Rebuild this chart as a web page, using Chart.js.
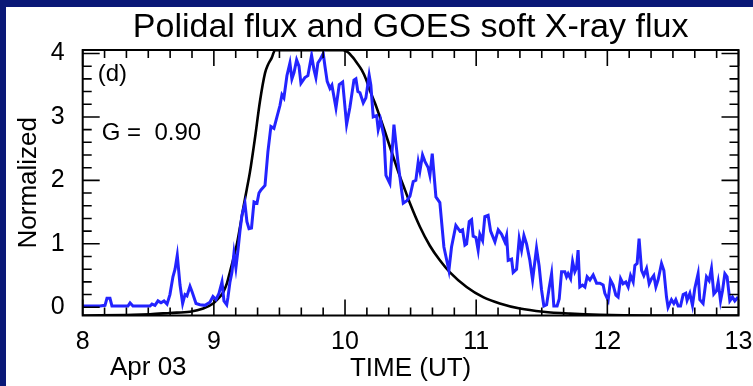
<!DOCTYPE html>
<html>
<head>
<meta charset="utf-8">
<script src="https://cdn.jsdelivr.net/npm/chart.js@4.4.1/dist/chart.umd.min.js"></script>
<style>
  html, body { margin: 0; padding: 0; width: 753px; height: 386px; overflow: hidden; background: #0a1877; }
  #panel { position: absolute; left: 6px; top: 7px; width: 747px; height: 379px; background: #fff; }
</style>
</head>
<body>
<div id="panel"><canvas id="fluxChart" width="747" height="379"></canvas></div>
<script>
// GOES soft X-ray flux (normalized), time in hours UT
const goesTime = [8.000, 8.132, 8.170, 8.185, 8.208, 8.223, 8.345, 8.361, 8.383, 8.513,
  8.528, 8.551, 8.574, 8.597, 8.620, 8.643, 8.665, 8.688, 8.704, 8.721,
  8.742, 8.762, 8.780, 8.795, 8.818, 8.833, 8.864, 8.894, 8.932, 8.970,
  8.993, 9.016, 9.039, 9.062, 9.077, 9.098, 9.107, 9.123, 9.138, 9.153,
  9.168, 9.184, 9.199, 9.214, 9.237, 9.252, 9.268, 9.287, 9.306, 9.329,
  9.344, 9.359, 9.390, 9.412, 9.435, 9.458, 9.481, 9.504, 9.519, 9.534,
  9.557, 9.580, 9.595, 9.611, 9.631, 9.649, 9.664, 9.694, 9.717, 9.745,
  9.763, 9.778, 9.793, 9.809, 9.834, 9.847, 9.864, 9.885, 9.900, 9.931,
  9.956, 9.982, 10.012, 10.037, 10.068, 10.083, 10.098, 10.114, 10.139, 10.159,
  10.184, 10.197, 10.215, 10.241, 10.253, 10.271, 10.297, 10.312, 10.342, 10.373,
  10.403, 10.444, 10.472, 10.495, 10.520, 10.540, 10.558, 10.571, 10.591, 10.609,
  10.634, 10.647, 10.665, 10.693, 10.723, 10.754, 10.792, 10.812, 10.845, 10.876,
  10.896, 10.914, 10.927, 10.947, 10.965, 10.977, 10.998, 11.015, 11.028, 11.049,
  11.066, 11.091, 11.110, 11.143, 11.168, 11.194, 11.219, 11.232, 11.244, 11.270,
  11.282, 11.308, 11.328, 11.346, 11.364, 11.384, 11.409, 11.430, 11.460, 11.480,
  11.498, 11.516, 11.537, 11.556, 11.575, 11.592, 11.617, 11.633, 11.651, 11.676,
  11.689, 11.701, 11.720, 11.735, 11.752, 11.765, 11.777, 11.790, 11.811, 11.829,
  11.846, 11.867, 11.892, 11.918, 11.943, 11.968, 11.981, 12.006, 12.024, 12.044,
  12.065, 12.082, 12.101, 12.120, 12.141, 12.159, 12.177, 12.197, 12.210, 12.227,
  12.242, 12.261, 12.278, 12.299, 12.319, 12.337, 12.354, 12.370, 12.387, 12.413,
  12.431, 12.451, 12.463, 12.489, 12.507, 12.522, 12.540, 12.558, 12.578, 12.598,
  12.608, 12.629, 12.649, 12.667, 12.692, 12.705, 12.730, 12.756, 12.776, 12.794,
  12.812, 12.832, 12.845, 12.863, 12.878, 12.896, 12.913, 12.934, 12.954, 12.972,
  12.997];
const goesFlux = [0.02, 0.02, 0.03, 0.14, 0.14, 0.02, 0.02, 0.07, 0.02, 0.02,
  0.05, 0.03, 0.10, 0.07, 0.10, 0.05, 0.20, 0.48, 0.60, 0.82,
  0.35, 0.06, 0.20, 0.18, 0.33, 0.25, 0.06, 0.04, 0.03, 0.08,
  0.17, 0.12, 0.22, 0.40, 0.10, 0.04, 0.15, 0.40, 0.55, 0.85,
  0.62, 0.90, 1.20, 1.45, 1.64, 1.35, 1.24, 1.25, 1.66, 1.64,
  1.80, 1.85, 1.92, 2.45, 2.85, 2.82, 3.00, 3.18, 3.35, 3.30,
  3.65, 3.85, 3.60, 3.70, 3.90, 3.80, 3.53, 3.62, 3.65, 3.97,
  3.75, 3.62, 3.85, 3.90, 4.00, 3.80, 3.56, 3.45, 3.50, 3.14,
  3.51, 3.55, 2.88, 3.15, 3.58, 3.60, 3.40, 3.38, 3.22, 3.30,
  3.66, 3.50, 3.00, 3.02, 2.80, 2.95, 2.69, 2.08, 1.95, 2.88,
  2.30, 1.64, 1.68, 1.75, 1.98, 2.00, 2.29, 2.15, 2.40, 2.30,
  2.20, 2.08, 2.42, 1.74, 1.65, 0.95, 0.58, 0.95, 1.29, 1.20,
  1.22, 0.98, 1.00, 1.35, 1.38, 1.12, 1.10, 0.90, 1.15, 1.05,
  1.43, 1.45, 1.20, 1.03, 1.22, 1.15, 1.03, 1.13, 0.74, 0.76,
  0.55, 0.60, 1.08, 0.90, 1.13, 1.00, 0.74, 0.43, 0.93, 0.65,
  0.28, 0.02, 0.04, 0.30, 0.53, 0.02, 0.02, 0.13, 0.56, 0.56,
  0.48, 0.53, 0.45, 0.72, 0.56, 0.62, 0.90, 0.32, 0.35, 0.32,
  0.48, 0.43, 0.51, 0.38, 0.38, 0.35, 0.22, 0.11, 0.43, 0.35,
  0.19, 0.16, 0.45, 0.37, 0.40, 0.32, 0.50, 0.40, 0.66, 0.69,
  1.08, 0.58, 0.50, 0.61, 0.37, 0.45, 0.50, 0.32, 0.43, 0.69,
  0.58, 0.16, 0.00, 0.12, 0.06, 0.12, 0.02, 0.02, 0.20, 0.22,
  0.11, 0.22, 0.03, 0.30, 0.53, 0.12, 0.06, 0.48, 0.42, 0.61,
  0.21, 0.26, 0.40, 0.10, 0.26, 0.53, 0.48, 0.10, 0.16, 0.10,
  0.16];

// poloidal flux (normalized)
const polTime = [8.000, 8.383, 8.513, 8.665, 8.818, 8.919, 8.995, 9.031, 9.072, 9.100,
  9.123, 9.148, 9.174, 9.199, 9.224, 9.250, 9.275, 9.313, 9.351, 9.390,
  9.412, 9.441, 9.466, 9.984, 10.022, 10.063, 10.091, 10.127, 10.159, 10.189,
  10.228, 10.266, 10.304, 10.342, 10.381, 10.419, 10.457, 10.495, 10.571, 10.647,
  10.723, 10.800, 10.927, 11.053, 11.180, 11.333, 11.511, 11.714, 11.943, 12.324,
  13.000];
const polFlux = [-0.13, -0.12, -0.11, -0.09, -0.07, -0.02, 0.06, 0.13, 0.24, 0.38,
  0.56, 0.76, 0.98, 1.26, 1.56, 1.85, 2.13, 2.66, 3.24, 3.69,
  3.82, 3.93, 4.05, 4.05, 4.02, 3.93, 3.85, 3.74, 3.60, 3.42,
  3.22, 3.00, 2.77, 2.53, 2.29, 2.06, 1.85, 1.64, 1.27, 0.97,
  0.74, 0.55, 0.32, 0.16, 0.06, -0.02, -0.07, -0.10, -0.12, -0.13,
  -0.13];

const xTicks = [8, 9, 10, 11, 12, 13];
const yTicks = [0, 1, 2, 3, 4];

const FONT = "'Liberation Sans', Arial, Helvetica, sans-serif";
Chart.defaults.font.family = FONT;
Chart.defaults.color = '#000';

// IDL style frame: box on all four sides with inward major/minor ticks
const frameTicks = {
  id: 'frameTicks',
  afterDatasetsDraw(chart) {
    const {ctx, chartArea: a, scales: {x, y}} = chart;
    ctx.save();
    ctx.strokeStyle = '#000';
    ctx.lineWidth = 1.6;
    ctx.beginPath();
    for (let i = 0; i <= 30; i++) {
      const px = x.getPixelForValue(8 + i / 6);
      const len = i % 6 === 0 ? 16 : 8;
      ctx.moveTo(px, a.bottom); ctx.lineTo(px, a.bottom - len);
      ctx.moveTo(px, a.top); ctx.lineTo(px, a.top + len);
    }
    for (let i = 0; i <= 20; i++) {
      const py = y.getPixelForValue(i / 5);
      const len = i % 5 === 0 ? 17 : 9;
      ctx.moveTo(a.left, py); ctx.lineTo(a.left + len, py);
      ctx.moveTo(a.right, py); ctx.lineTo(a.right - len, py);
    }
    ctx.stroke();
    ctx.lineWidth = 2;
    ctx.strokeRect(a.left, a.top, a.right - a.left, a.bottom - a.top);

    ctx.fillStyle = '#000';
    ctx.textBaseline = 'middle';
    ctx.textAlign = 'left';
    ctx.font = '24px ' + FONT;
    ctx.fillText('(d)', a.left + 15, a.top + 24);
    ctx.fillText('G =  0.90', a.left + 19, a.top + 83);
    ctx.font = '26px ' + FONT;
    ctx.textAlign = 'center';
    ctx.fillText('Apr 03', x.getPixelForValue(8.5), 361);
    ctx.restore();
  }
};

const ctx = document.getElementById('fluxChart').getContext('2d');
const fluxChart = new Chart(ctx, {
  type: 'line',
  data: {
    datasets: [{
      label: 'GOES soft X-ray flux',
      data: goesTime.map((t, i) => ({x: t, y: goesFlux[i]})),
      borderColor: '#2323ff',
      borderWidth: 3,
      pointRadius: 0,
      tension: 0
    }, {
      label: 'Polidal flux',
      data: polTime.map((t, i) => ({x: t, y: polFlux[i]})),
      borderColor: '#000',
      borderWidth: 2.6,
      pointRadius: 0,
      cubicInterpolationMode: 'monotone'
    }]
  },
  options: {
    responsive: false,
    animation: false,
    events: [],
    layout: { padding: { left: 0, right: 14.5, top: 0, bottom: 0 } },
    plugins: {
      legend: { display: false },
      tooltip: { enabled: false },
      title: {
        display: true,
        fullSize: false,
        text: 'Polidal flux and GOES soft X-ray flux',
        font: { size: 34, weight: 'normal' },
        color: '#000',
        padding: { top: 0, bottom: 2.2 }
      }
    },
    scales: {
      x: {
        type: 'linear',
        min: 8,
        max: 13,
        afterBuildTicks: s => { s.ticks = xTicks.map(v => ({value: v})); },
        afterFit: s => { s.height = 70.5; s.paddingLeft = 0; s.paddingRight = 0; },
        grid: { display: false },
        border: { display: false },
        ticks: { font: { size: 25 }, color: '#000', padding: 4, maxRotation: 0 },
        title: {
          display: true,
          text: 'TIME (UT)',
          font: { size: 26 },
          color: '#000',
          padding: { top: 0, bottom: 2 }
        }
      },
      y: {
        min: -0.13,
        max: 4.055,
        afterBuildTicks: s => { s.ticks = yTicks.map(v => ({value: v})); },
        afterFit: s => { s.width = 76.7; s.paddingTop = 0; s.paddingBottom = 0; },
        grid: { display: false },
        border: { display: false },
        ticks: { font: { size: 25 }, color: '#000', padding: 10 },
        title: {
          display: true,
          text: 'Normalized',
          font: { size: 26 },
          color: '#000',
          padding: { top: 7.5, bottom: 0 }
        }
      }
    }
  },
  plugins: [frameTicks]
});
</script>
</body>
</html>
